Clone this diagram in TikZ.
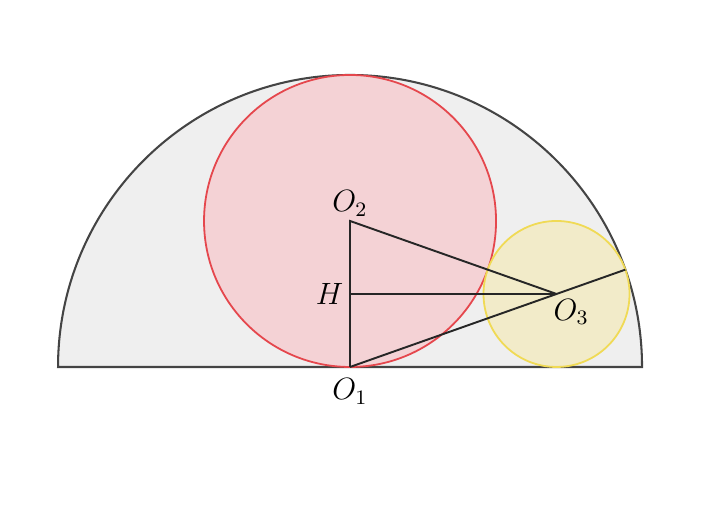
\documentclass[tikz,border=0pt]{standalone}
\usetikzlibrary{calc}
\definecolor{bigfill}{HTML}{EFEFEF}
\definecolor{bigline}{HTML}{444444}
\definecolor{redfill}{HTML}{F4D2D5}
\definecolor{redline}{HTML}{E5474D}
\definecolor{yelfill}{HTML}{F3EBC3}
\definecolor{yelline}{HTML}{F0DA55}
\tikzset{
  seg/.style={draw=black!85, line width=0.75pt},
  lbl/.style={inner sep=1pt, font=\large}
}
\begin{document}
\begin{tikzpicture}[x=1cm,y=1cm]
\useasboundingbox (-4.795,-2.219) rectangle (5.068,5.027);
\coordinate (O1) at (0,0);
\coordinate (O2) at (0,2);
\coordinate (O3) at ({sqrt(8)},1);
\coordinate (H) at (0,1);
\coordinate (P) at ({4*sqrt(8)/3},{4/3});
% big semicircle
\draw[fill=bigfill, draw=bigline, line width=0.8pt] (-4,0) arc[start angle=180,end angle=0,radius=4] -- cycle;
% red circle
\draw[fill=redfill, draw=redline, line width=0.7pt] (O2) circle[radius=2];
% yellow circle
\draw[fill=yelfill, fill opacity=0.85, draw=yelline, line width=0.7pt] (O3) circle[radius=1];
% segments
\draw[seg] (O1) -- (O2) -- (O3);
\draw[seg] (H) -- (O3);
\draw[seg] (O1) -- (P);
% labels
\node[lbl, anchor=south] (lO2) at ($(O2)+(0,0.02)$) {$O_2$};
\node[lbl, anchor=east] (lH) at ($(H)+(-0.05,0)$) {$H$};
\node[lbl, anchor=north] (lO3) at ($(O3)+(0.2,-0.03)$) {$O_3$};
\node[lbl, anchor=north] (lO1) at ($(O1)+(0,-0.12)$) {$O_1$};
\end{tikzpicture}
\end{document}
